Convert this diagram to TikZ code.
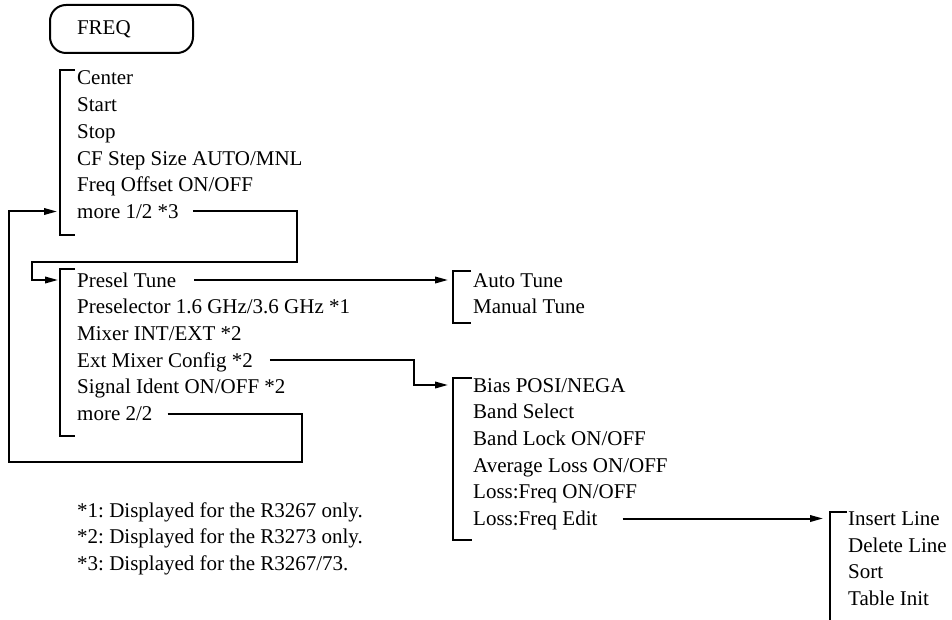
\documentclass[tikz,border=0pt]{standalone}
\usepackage{fontspec}
\setmainfont{Liberation Serif}
\usetikzlibrary{arrows.meta}
\frenchspacing
\begin{document}
\begin{tikzpicture}[x=1pt,y=-1pt,
  item/.style={anchor=base west, inner sep=0pt, text height=15pt, text depth=1pt, font=\fontsize{21}{25}\selectfont},
  brk/.style={line width=2pt},
  conn/.style={line width=2pt, -{Triangle[length=13pt,width=6.5pt]}},
  keybox/.style={draw, line width=2pt, rounded corners=16pt, minimum height=48pt, text width=89pt, inner xsep=27pt, inner ysep=0pt, align=left, font=\fontsize{21}{25}\selectfont}]
\useasboundingbox (0,0) rectangle (952,620);

% FREQ key
\node[keybox] (freq) at (121.5,29) {FREQ};

% column 1
\node[item] (c1) at (77,85) {Center};
\node[item] (c2) at (77,111.7) {Start};
\node[item] (c3) at (77,138.4) {Stop};
\node[item] (c4) at (77,165.1) {CF Step Size AUTO/MNL};
\node[item] (c5) at (77,191.8) {Freq Offset ON/OFF};
\node[item] (c6) at (77,218.5) {more 1/2 *3};
\draw[brk] (75,70) -- (60,70) -- (60,235) -- (75,235);

% column 2
\node[item] (p1) at (77,287) {Presel Tune};
\node[item] (p2) at (77,313.7) {Preselector 1.6 GHz/3.6 GHz *1};
\node[item] (p3) at (77,340.4) {Mixer INT/EXT *2};
\node[item] (p4) at (77,367.1) {Ext Mixer Config *2};
\node[item] (p5) at (77,393.8) {Signal Ident ON/OFF *2};
\node[item] (p6) at (77,420.5) {more 2/2};
\draw[brk] (75,269) -- (60,269) -- (60,436) -- (75,436);

% presel tune submenu
\node[item] (a1) at (473,287) {Auto Tune};
\node[item] (a2) at (473,313.7) {Manual Tune};
\draw[brk] (471,271) -- (453,271) -- (453,323) -- (471,323);

% ext mixer submenu
\node[item] (b1) at (473,392) {Bias POSI/NEGA};
\node[item] (b2) at (473,418.7) {Band Select};
\node[item] (b3) at (473,445.4) {Band Lock ON/OFF};
\node[item] (b4) at (473,472.1) {Average Loss ON/OFF};
\node[item] (b5) at (473,498.8) {Loss:Freq ON/OFF};
\node[item] (b6) at (473,525.5) {Loss:Freq Edit};
\draw[brk] (472,378) -- (453,378) -- (453,540) -- (472,540);

% loss freq edit submenu
\node[item] (i1) at (848,525.5) {Insert Line};
\node[item] (i2) at (848,552.2) {Delete Line};
\node[item] (i3) at (848,578.9) {Sort};
\node[item] (i4) at (848,605.6) {Table Init};
\draw[brk] (847,512) -- (830,512) -- (830,621);

% footnotes
\node[item] (f1) at (77,517) {*1: Displayed for the R3267 only.};
\node[item] (f2) at (77,543.7) {*2: Displayed for the R3273 only.};
\node[item] (f3) at (77,570.4) {*3: Displayed for the R3267/73.};

% connectors
\coordinate (r1) at (297,262);
\coordinate (l1) at (32,262);
\draw[conn] ([xshift=14pt]c6.east) -| (r1) -- (l1) |- ([xshift=-19pt]p1.west);

\coordinate (r2) at (302,462);
\coordinate (l2) at (9,462);
\draw[conn] ([xshift=15pt]p6.east) -| (r2) -- (l2) |- ([xshift=-20pt]c6.west);

\draw[conn] ([xshift=18pt]p1.east) -- ([xshift=-25pt]a1.west);
\draw[conn] ([xshift=17pt]p4.east) -| ([xshift=-59pt]b1.west) -- ([xshift=-25pt]b1.west);
\draw[conn] ([xshift=25pt]b6.east) -- ([xshift=-25pt]i1.west);
\end{tikzpicture}
\end{document}
